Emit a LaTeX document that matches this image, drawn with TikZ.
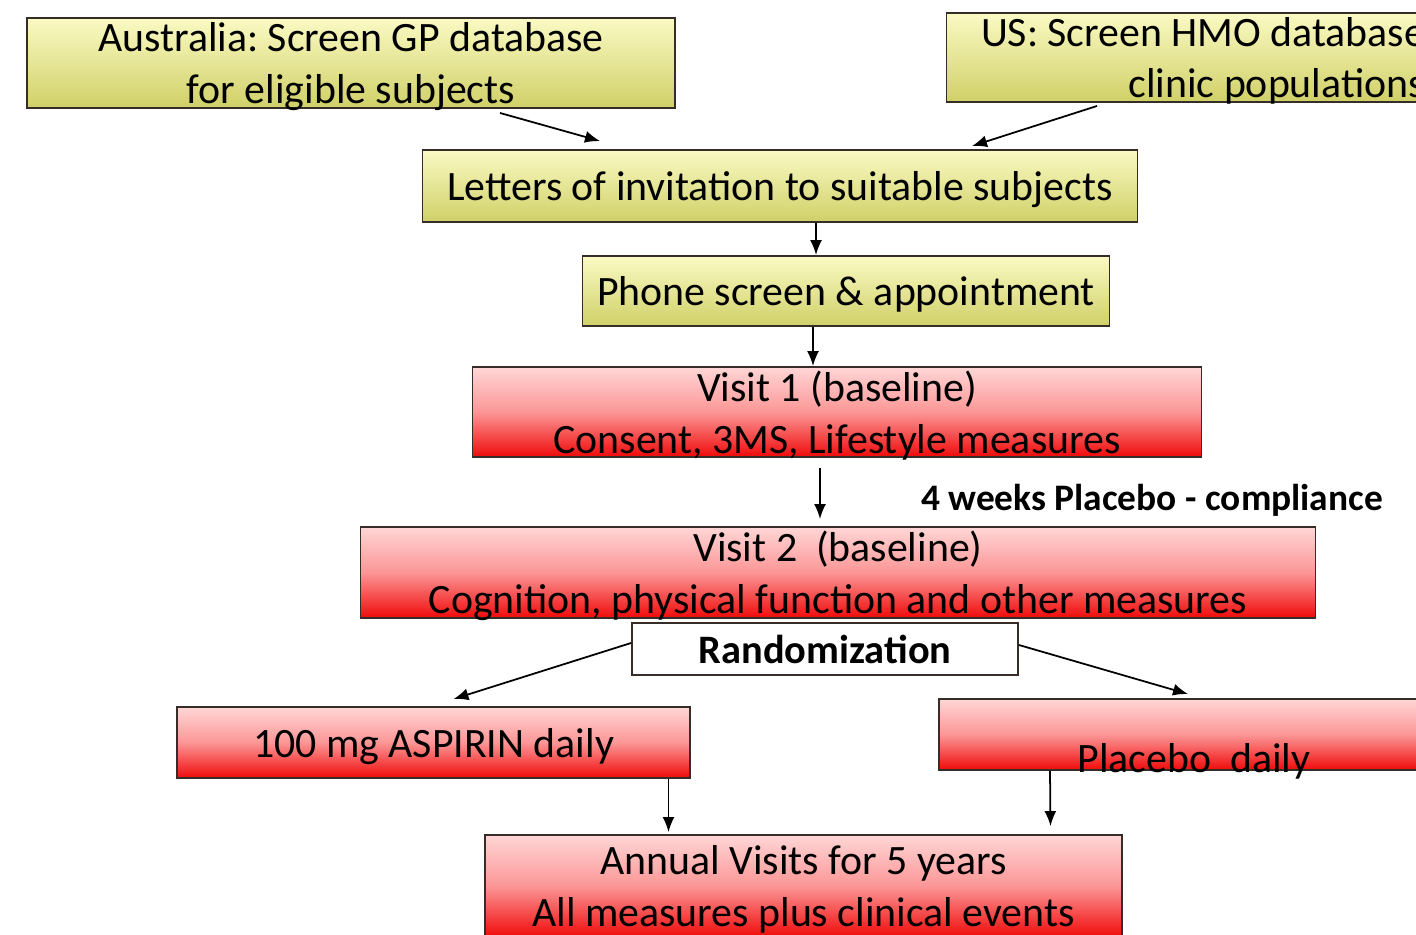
\documentclass[tikz,border=0pt]{standalone}
\usepackage{fontspec}
\setmainfont{Carlito}
\usetikzlibrary{calc,arrows.meta}
\frenchspacing
\definecolor{ylwtop}{RGB}{250,250,196}
\definecolor{ylwbot}{RGB}{208,208,104}
\definecolor{redtop}{RGB}{255,214,214}
\definecolor{redmid}{RGB}{252,150,150}
\definecolor{redbot}{RGB}{240,10,10}
\definecolor{edge}{RGB}{55,45,40}
\begin{document}
\begin{tikzpicture}[x=0.02cm,y=-0.02cm,
	boxsize/.style 2 args={minimum width=#1*0.02cm,minimum height=#2*0.02cm},
	box/.style={draw=edge,line width=1.1pt,inner sep=0pt,align=center,text depth=0pt,font=\fontsize{23.8}{29.5}\selectfont},
	ybox/.style={box,top color=ylwtop,bottom color=ylwbot},
	rbox/.style={box,top color=redtop,bottom color=redbot,middle color=redmid},
	arr/.style={-{Latex[length=3mm,width=2.4mm]},line width=1pt}]
	\clip (0,0) rectangle (1416,934);
	\fill[white] (0,0) rectangle (1416,934);
	\node[ybox,boxsize={648}{90}] (aus) at (351,63) {Australia: Screen GP database\\for eligible subjects};
	\node[ybox,boxsize={513}{89},align=right] (us) at (1203,57.5) {US: Screen HMO database\\clinic populations};
	\node[ybox,boxsize={715}{72}] (lett) at (780,186) {Letters of invitation to suitable subjects};
	\node[ybox,boxsize={527}{70}] (phone) at (846,291) {Phone screen \& appointment};
	\node[rbox,boxsize={729}{90}] (v1) at (837,412) {Visit 1 (baseline)\\Consent, 3MS, Lifestyle measures};
	\node[rbox,boxsize={955}{91}] (v2) at (838,572.5) {Visit 2 \ (baseline)\\Cognition, physical function and other measures};
	\node[box,fill=white,boxsize={386}{52},font=\fontsize{23}{28}\bfseries] (rand) at (825,649) {Randomization};
	\node[rbox,boxsize={513}{71}] (asp) at (433.5,742.5) {100 mg ASPIRIN daily};
	\node[rbox,boxsize={510}{71}] (plac) at (1194,734.5) {\raisebox{-0.9em}{Placebo \ daily}};
	\node[rbox,boxsize={637}{102}] (ann) at (803.5,886) {Annual Visits for 5 years\\All measures plus clinical events};
	\node[font=\fontsize{21.3}{24}\bfseries] (wk) at (1152,500) {4 weeks Placebo - compliance};
	\draw[arr] ($(aus.south)+(149,4)$) -- ($(lett.north)+(-180,-8)$);
	\draw[arr] ($(us.south)+(-106,3)$) -- ($(lett.north)+(192,-3)$);
	\draw[arr] ($(lett.south)+(36,0)$) -- ($(phone.north)+(-30,0)$);
	\draw[arr] ($(phone.south)+(-33,0)$) -- ($(v1.north)+(-24,0)$);
	\draw[arr] ($(v1.south)+(-17,10)$) -- ($(v2.north)+(-18,-7)$);
	\draw[arr] ($(rand.west)+(0,-6)$) -- ($(asp.north)+(20,-7)$);
	\draw[arr] ($(rand.east)+(0,-4)$) -- ($(plac.north)+(-6,-4)$);
	\draw[arr] ($(asp.south)+(235,0)$) -- ($(ann.north)+(-135,-2)$);
	\draw[arr] ($(plac.south)+(-144,0)$) -- ($(ann.north)+(247,-8)$);
\end{tikzpicture}
\end{document}
